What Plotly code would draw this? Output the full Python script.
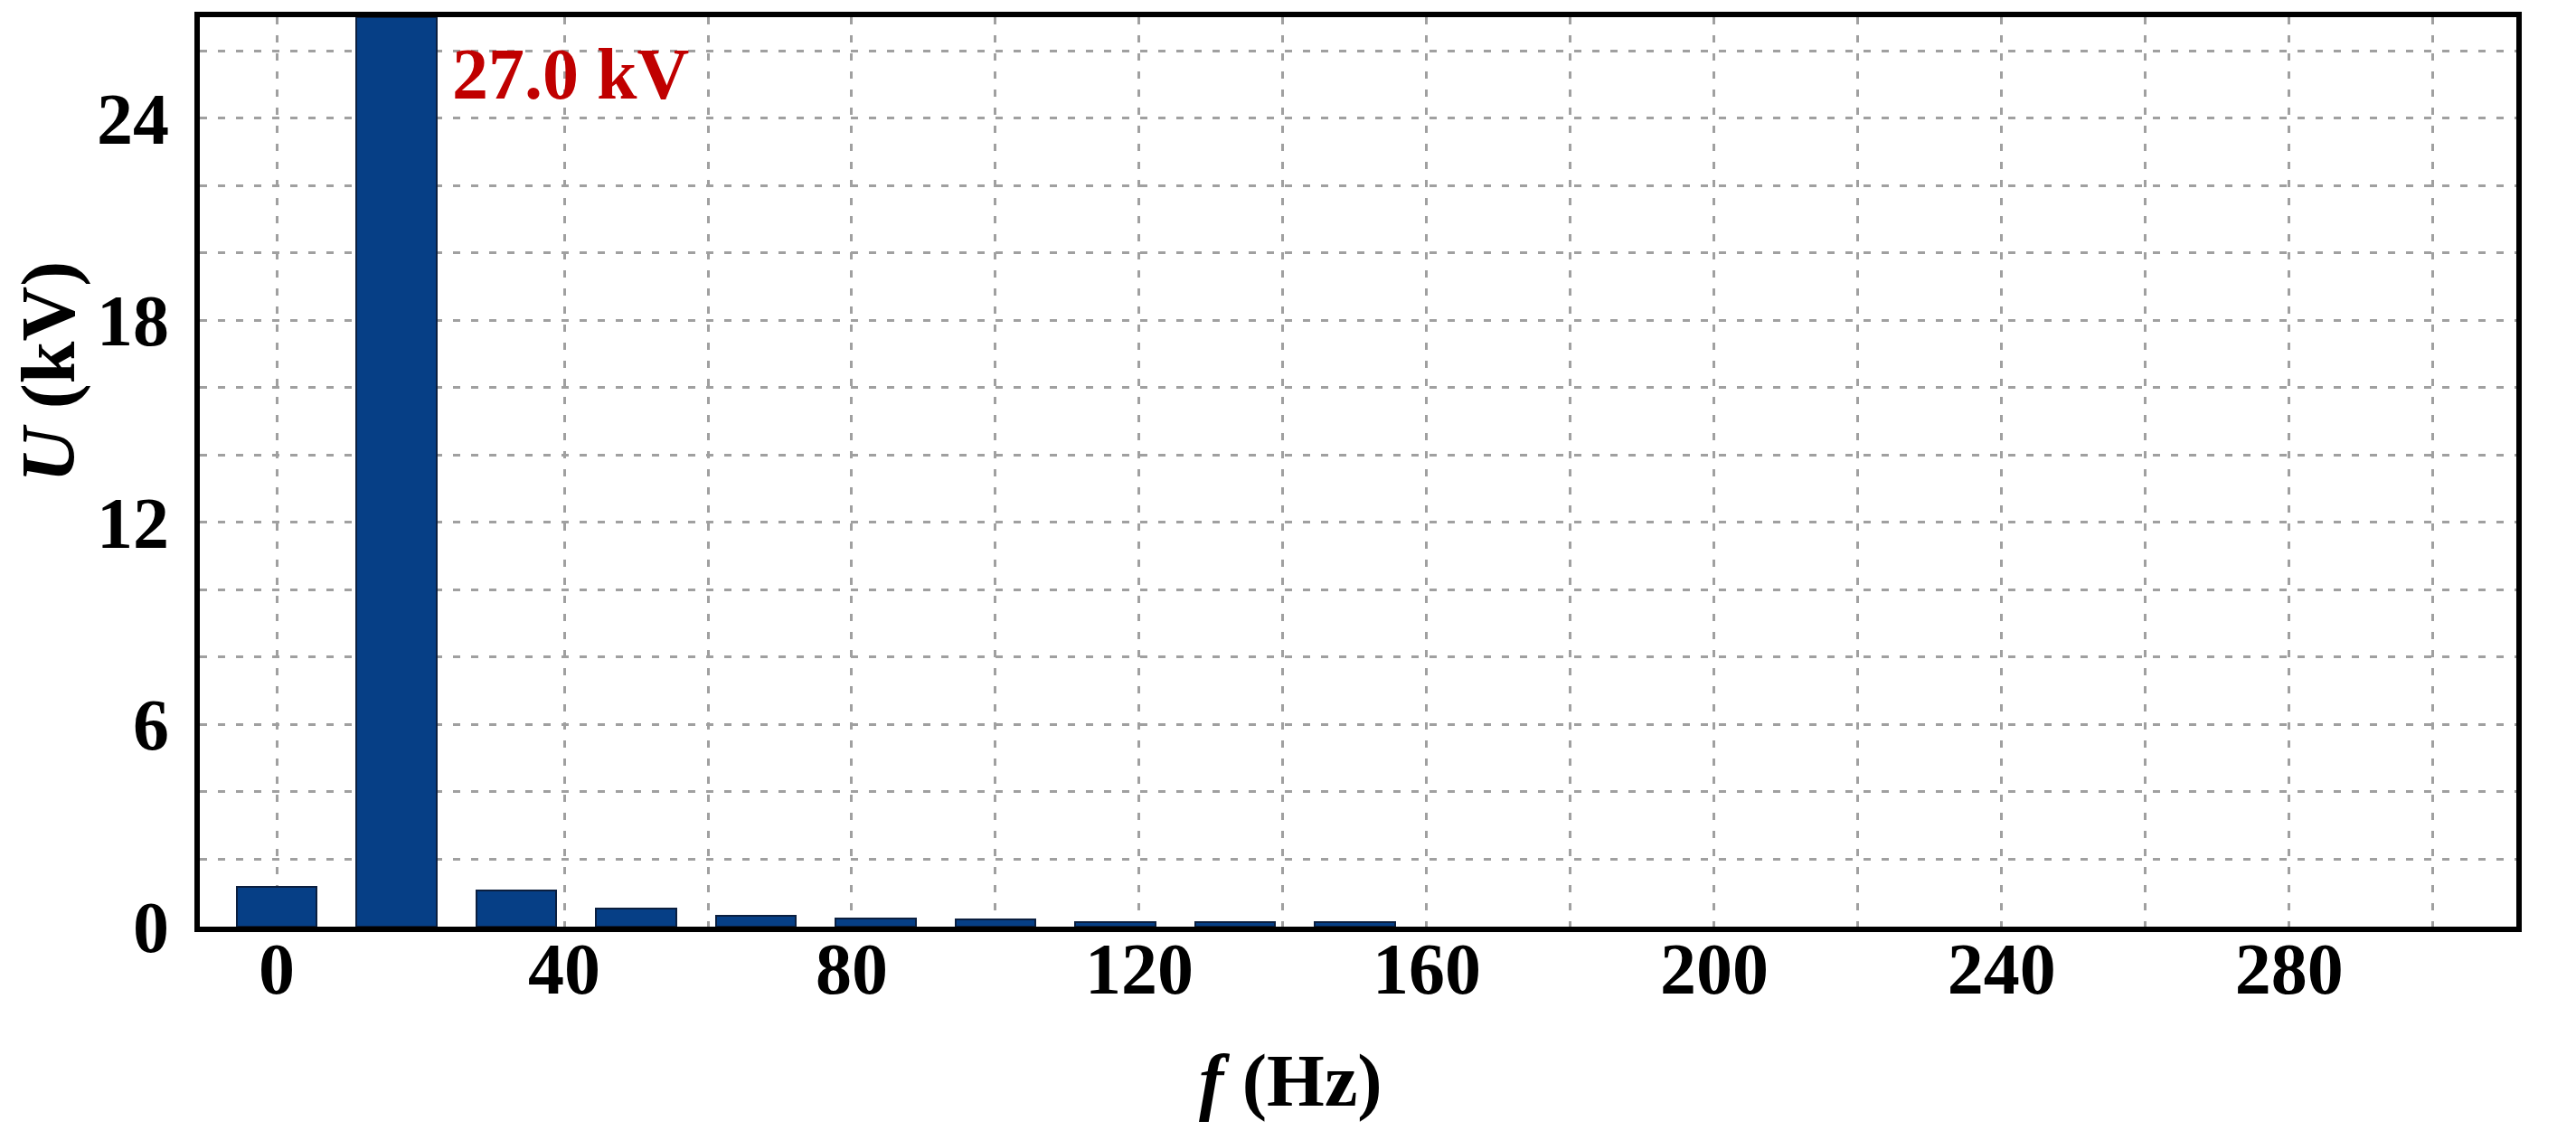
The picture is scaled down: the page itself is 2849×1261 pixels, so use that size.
import plotly.graph_objects as go

# harmonic spectrum, fundamental 16.7 Hz
freq = [0, 16.67, 33.33, 50, 66.67, 83.33, 100, 116.67, 133.33, 150]
volt = [1.17, 27.0, 1.08, 0.55, 0.32, 0.24, 0.22, 0.14, 0.14, 0.13]
xticks = [0, 40, 80, 120, 160, 200, 240, 280]
yticks = [0, 6, 12, 18, 24]

serif = "Liberation Serif, Times New Roman, serif"
grid = dict(gridcolor="#a0a0a0", gridwidth=3, griddash="8px,12px")

fig = go.Figure()
fig.add_trace(go.Bar(x=freq, y=volt, width=11.1,
                     marker=dict(color="#063f86", line=dict(color="#0b1f3f", width=2))))

fig.add_annotation(x=24.2, y=25.3, xref="x", yref="y", text="27.0 kV", showarrow=False,
                   xanchor="left", yanchor="middle",
                   font=dict(family=serif, size=80, color="#c00000", weight="bold"))
fig.add_annotation(x=-0.065, y=0.61, xref="paper", yref="paper", text="<i>U</i> (kV)",
                   showarrow=False, textangle=-90, xanchor="center", yanchor="middle",
                   font=dict(family=serif, size=84, color="black", weight="bold"))
fig.add_annotation(x=0.471, y=-0.169, xref="paper", yref="paper", text="<i>f</i> (Hz)",
                   showarrow=False, xanchor="center", yanchor="middle",
                   font=dict(family=serif, size=82, color="black", weight="bold"))

fig.update_xaxes(range=[-10.7, 311.6], tickvals=xticks, showgrid=True, **grid,
                 minor=dict(tick0=0, dtick=20, showgrid=True, **grid),
                 showline=True, linecolor="black", linewidth=6, mirror=True,
                 ticks="", zeroline=False, ticklabelstandoff=-28, automargin=False,
                 tickfont=dict(family=serif, size=80, color="black", weight="bold"))
fig.update_yaxes(range=[0, 27.0], tickvals=yticks, showgrid=True, **grid,
                 minor=dict(tick0=0, dtick=2, showgrid=True, **grid),
                 showline=True, linecolor="black", linewidth=6, mirror=True,
                 ticks="", zeroline=False, ticklabelstandoff=12, automargin=False,
                 tickfont=dict(family=serif, size=80, color="black", weight="bold"))
fig.update_layout(width=2849, height=1261, plot_bgcolor="white", paper_bgcolor="white",
                  margin=dict(l=213, r=74, t=11, b=244), showlegend=False, bargap=0)
fig.write_html("out.html")
